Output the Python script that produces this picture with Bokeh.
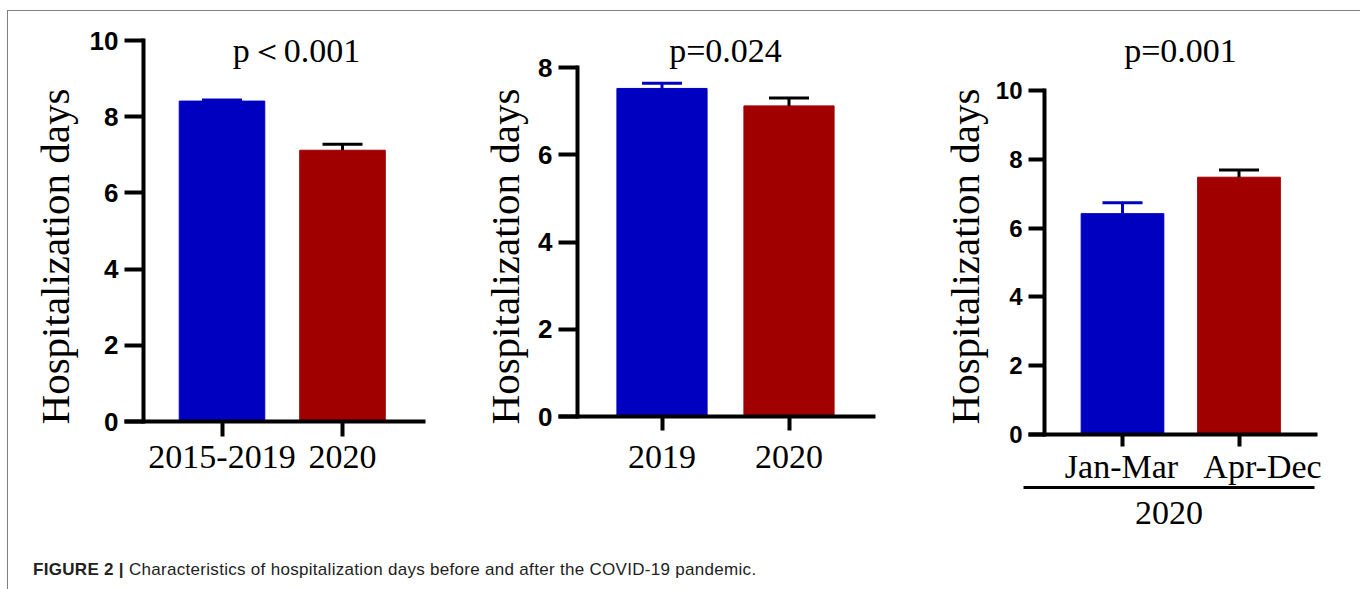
import math
from bokeh.plotting import figure
from bokeh.models import ColumnDataSource, Range1d, FixedTicker, LinearAxis, Label, Div
from bokeh.layouts import row, column
from bokeh.embed import file_html
from bokeh.resources import INLINE

# ---------------- data ----------------
categories_a = ["2015-2019", "2020"]
days_a = [8.41, 7.12]
sem_a = [0.03, 0.16]

categories_b = ["2019", "2020"]
days_b = [7.52, 7.12]
sem_b = [0.12, 0.18]

categories_c = ["Jan-Mar", "Apr-Dec"]
days_c = [6.42, 7.48]
sem_c = [0.32, 0.21]
group_c = "2020"

p_texts = ["p\uff1c0.001", "p=0.024", "p=0.001"]
y_ticks_a = [0, 2, 4, 6, 8, 10]
y_ticks_b = [0, 2, 4, 6, 8]
y_ticks_c = [0, 2, 4, 6, 8, 10]
y_label = "Hospitalization days"
caption_bold = "FIGURE 2 |"
caption_text = "Characteristics of hospitalization days before and after the COVID-19 pandemic."

# ---------------- style / layout (page pixels) ----------------
BAR_COLORS = ["#0000C0", "#A00000"]
ERR_COLORS = ["#0000C0", "#000000"]
SERIF = "Liberation Serif"
SANS = "Liberation Sans"
TOP, BOTTOM = 11, 545          # figure row spans these page rows


def panel(cats, vals, errs, yticks, ptext, L):
    sx = L["c2"] - L["c1"]
    sy = (L["y0"] - L["ytop"]) / yticks[-1]
    X = lambda px: 1 + (px - L["c1"]) / sx
    Y = lambda py: (L["y0"] - py) / sy

    pos = [i + 1 for i in range(len(cats))]
    src = ColumnDataSource(dict(
        x=pos, top=vals, upper=[v + e for v, e in zip(vals, errs)],
        color=BAR_COLORS[:len(cats)], ecolor=ERR_COLORS[:len(cats)]))

    p = figure(width=L["right"] - L["left"], height=BOTTOM - TOP,
               x_range=Range1d(X(L["left"]), X(L["right"])),
               y_range=Range1d(Y(BOTTOM), Y(TOP)),
               output_backend="svg", toolbar_location=None)
    p.min_border = 0
    p.min_border_left = p.min_border_right = 0
    p.min_border_top = p.min_border_bottom = 0
    p.outline_line_color = None
    p.grid.visible = False
    p.background_fill_color = "white"
    p.border_fill_color = "white"

    p.vbar(x="x", top="top", width=0.71, fill_color="color",
           line_color="color", line_width=1, source=src)
    p.segment(x0="x", y0="top", x1="x", y1="upper", line_color="ecolor",
              line_width=3, source=src)
    p.scatter(x="x", y="upper", marker="dash", size=40, line_color="ecolor",
              line_width=3, source=src)

    # y axis
    ya = p.yaxis[0]
    ya.fixed_location = X(L["yax"])
    ya.bounds = (0, yticks[-1])
    ya.ticker = FixedTicker(ticks=yticks)
    ya.axis_line_width = 4
    ya.axis_line_color = "black"
    ya.axis_line_cap = "square"
    ya.major_tick_line_width = 4
    ya.major_tick_out = L["ytick"]
    ya.major_tick_in = 0
    ya.minor_tick_line_color = None
    ya.major_label_text_font = SANS
    ya.major_label_text_font_style = "bold"
    ya.major_label_text_font_size = L["yfont"]
    ya.major_label_text_color = "black"
    ya.major_label_standoff = 6

    # x axis
    xa = p.xaxis[0]
    xa.fixed_location = 0
    xa.bounds = (X(L["xl"]), X(L["xr"]))
    xa.ticker = FixedTicker(ticks=pos)
    xa.axis_line_width = 4
    xa.axis_line_color = "black"
    xa.major_tick_line_width = 4
    xa.major_tick_out = L["xtick"]
    xa.major_tick_in = 0
    xa.minor_tick_line_color = None
    xa.major_label_text_font = SERIF
    xa.major_label_text_font_size = "34px"
    xa.major_label_text_color = "black"
    xa.major_label_standoff = L["xstd"]
    if "lab1" in L:
        xa.major_label_overrides = {k: "" for k in pos}
        s2 = L["lab2"] - L["lab1"]
        X2 = lambda px: 1 + (px - L["lab1"]) / s2
        p.extra_x_ranges = {"lab": Range1d(X2(L["left"]), X2(L["right"]))}
        la = LinearAxis(x_range_name="lab", ticker=FixedTicker(ticks=pos))
        la.fixed_location = 0
        la.major_label_overrides = {k: c for k, c in zip(pos, cats)}
        la.axis_line_color = None
        la.major_tick_line_color = None
        la.minor_tick_line_color = None
        la.major_tick_out = L["xtick"]
        la.major_tick_in = 0
        la.major_label_text_font = SERIF
        la.major_label_text_font_size = "34px"
        la.major_label_text_color = "black"
        la.major_label_standoff = L["labstd"]
        p.add_layout(la, "below")
    else:
        xa.major_label_overrides = {k: c for k, c in zip(pos, cats)}

    # y-axis title (rotated)
    p.add_layout(Label(x=X(L["ylab_x"]), y=Y(256), text=y_label, angle=math.pi / 2,
                       text_font=SERIF, text_font_size="41px", text_color="black",
                       text_align="center", text_baseline="alphabetic"))
    # p-value
    p.add_layout(Label(x=X(L["tx"]), y=Y(50), text=ptext, text_font=SERIF,
                       text_font_size="34px", text_color="black",
                       text_align="center", text_baseline="alphabetic"))
    return p, X, Y


L1 = dict(left=8, right=465, c1=221.5, c2=342, y0=421, ytop=40, yax=143,
          xl=124, xr=425, ytick=19, xtick=15, xstd=9, yfont="26px",
          ylab_x=54, tx=296)
L2 = dict(left=465, right=925, c1=661.5, c2=788.5, y0=416, ytop=67, yax=577,
          xl=558, xr=875, ytick=19, xtick=14, xstd=15, yfont="26px",
          ylab_x=504, tx=725)
L3 = dict(left=925, right=1356, c1=1122, c2=1238.5, y0=434, ytop=90, yax=1044,
          xl=1028, xr=1317, ytick=16, xtick=12, xstd=8, yfont="24px",
          ylab_x=964, tx=1180, lab1=1121, lab2=1262, labstd=1)

p1, _, _ = panel(categories_a, days_a, sem_a, y_ticks_a, p_texts[0], L1)
p2, _, _ = panel(categories_b, days_b, sem_b, y_ticks_b, p_texts[1], L2)
p3, X3, Y3 = panel(categories_c, days_c, sem_c, y_ticks_c, p_texts[2], L3)

# group axis under panel 3 ("2020" with underline)
ga = LinearAxis(ticker=FixedTicker(ticks=[]))
ga.fixed_location = Y3(487)
ga.bounds = (X3(1023), X3(1314))
ga.axis_line_width = 3
ga.axis_line_color = "black"
ga.major_tick_out = 0
ga.major_tick_in = 0
ga.minor_tick_line_color = None
ga.axis_label = group_c
ga.axis_label_text_font = SERIF
ga.axis_label_text_font_style = "normal"
ga.axis_label_text_font_size = "34px"
ga.axis_label_text_color = "black"
ga.axis_label_standoff = 14
p3.add_layout(ga, "below")

caption = Div(
    text=('<div style="padding:8px 0 0 20px; font-family:\'Liberation Sans\', Arial, sans-serif; '
          'font-size:17px; letter-spacing:0.3px; color:#222; white-space:nowrap;">'
          '<b>' + caption_bold + '</b> ' + caption_text + '</div>'),
    width=1348, height=44)

layout = column(row(p1, p2, p3, spacing=0), caption, spacing=0,
                styles={"margin-left": "7px", "margin-top": "10px",
                        "border-left": "1px solid #808080", "border-top": "1px solid #808080",
                        "border-right": "1px solid #808080"})

open("out.html", "w").write(file_html(layout, INLINE))
